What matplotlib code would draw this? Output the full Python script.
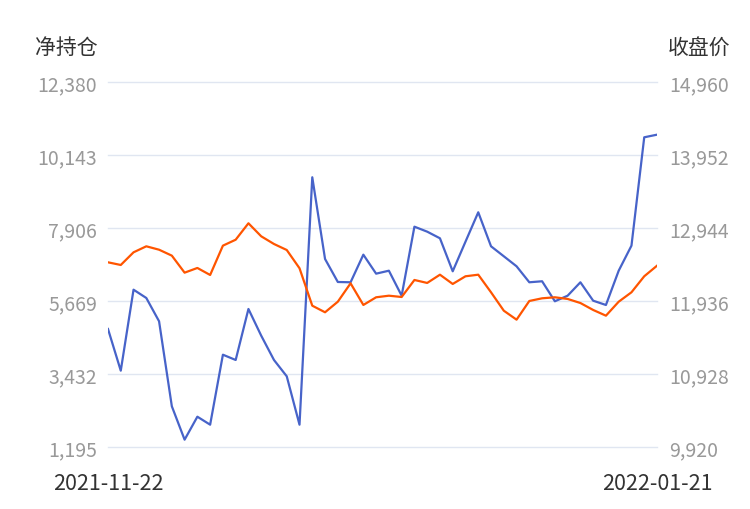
import matplotlib
matplotlib.use('Agg')

import matplotlib.pyplot as plt
from matplotlib.ticker import FixedLocator, FuncFormatter

plt.rcParams['font.family'] = ['Noto Sans CJK SC', 'DejaVu Sans']

# trading days 2021-11-22 .. 2022-01-21
dates = (
    ['2021-11-%02d' % d for d in (22, 23, 24, 25, 26, 29, 30)]
    + ['2021-12-%02d' % d for d in (1, 2, 3, 6, 7, 8, 9, 10, 13, 14, 15, 16, 17,
                                    20, 21, 22, 23, 24, 27, 28, 29, 30, 31)]
    + ['2022-01-%02d' % d for d in (4, 5, 6, 7, 10, 11, 12, 13, 14,
                                    17, 18, 19, 20, 21)]
)

# net position (left axis)
net_position = [
    4811, 3533, 6015, 5761, 5047, 2442, 1419, 2123, 1878, 4023,
    3861, 5424, 4606, 3861, 3361, 1878, 9460, 6956, 6251, 6242,
    7088, 6506, 6597, 5831, 7946, 7793, 7590, 6579, 7486, 8387,
    7345, 7039, 6732, 6242, 6273, 5660, 5831, 6242, 5678, 5546,
    6597, 7364, 10685, 10765,
]

# close price (right axis)
close_price = [
    12470, 12433, 12608, 12691, 12644, 12562, 12327, 12392, 12295, 12700,
    12782, 13009, 12829, 12723, 12640, 12388, 11871, 11780, 11926, 12180,
    11881, 11987, 12009, 11991, 12226, 12185, 12299, 12171, 12277, 12299,
    12056, 11802, 11678, 11936, 11973, 11987, 11964, 11908, 11812, 11733,
    11926, 12056, 12277, 12423,
]

left_ticks = [1195, 3432, 5669, 7906, 10143, 12380]
right_ticks = [9920, 10928, 11936, 12944, 13952, 14960]

x = list(range(len(dates)))
grid_color = '#e0e6f1'
tick_color = '#999999'
text_color = '#333333'

fig = plt.figure(figsize=(7.5, 5.1), dpi=100)
ax = fig.add_axes([0.144, 0.1216, 0.732, 0.7157])
ax2 = ax.twinx()

ax.plot(x, net_position, color='#4763c9', lw=1.6, zorder=3)
ax2.plot(x, close_price, color='#ff5500', lw=1.6, zorder=3)

ax.set_xlim(0, len(dates) - 1)
ax.set_ylim(left_ticks[0], left_ticks[-1])
ax2.set_ylim(right_ticks[0], right_ticks[-1])

ax.yaxis.set_major_locator(FixedLocator(left_ticks))
ax2.yaxis.set_major_locator(FixedLocator(right_ticks))
fmt = FuncFormatter(lambda v, p: f'{int(round(v)):,}')
ax.yaxis.set_major_formatter(fmt)
ax2.yaxis.set_major_formatter(fmt)

ax.set_xticks([0, len(dates) - 1])
ax.set_xticklabels([dates[0], dates[-1]])

ax.grid(axis='y', color=grid_color, lw=1, zorder=0)
for gl in ax.get_ygridlines():
    gl.set_clip_on(False)
for a in (ax, ax2):
    for s in a.spines.values():
        s.set_visible(False)

ax.tick_params(axis='y', length=0, pad=8, labelsize=14, labelcolor=tick_color)
ax2.tick_params(axis='y', length=0, pad=9, labelsize=14, labelcolor=tick_color)
ax.tick_params(axis='x', length=0, pad=18, labelsize=15.5, labelcolor=text_color)
for lbl in ax.get_yticklabels() + ax2.get_yticklabels():
    lbl.set_fontweight('light')

fig.text(35 / 750, 1 - 48 / 510, '净持仓', ha='left', va='center',
         fontsize=15, color=text_color)
fig.text(730 / 750, 1 - 48 / 510, '收盘价', ha='right', va='center',
         fontsize=15, color=text_color)

fig.savefig('out.png', dpi=100)
